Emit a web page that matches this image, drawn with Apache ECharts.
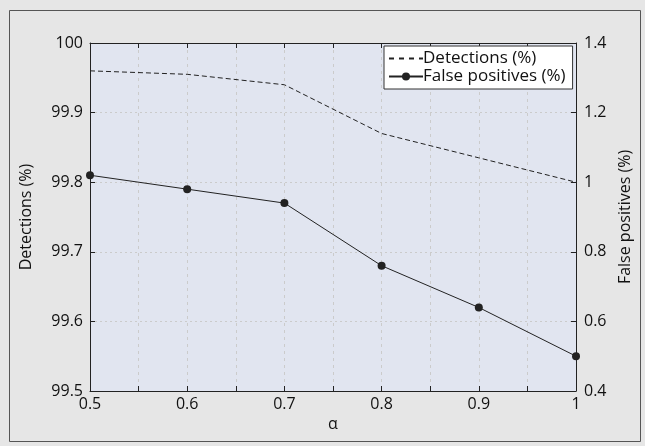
<!DOCTYPE html>
<html><head><meta charset="utf-8">
<script src="https://cdn.jsdelivr.net/npm/echarts@6/dist/echarts.min.js"></script>
<style>html,body{margin:0;padding:0;background:#e6e6e6}#c{width:645px;height:446px}</style>
</head><body><div id="c"></div>
<script>
const alphas = [0.5, 0.6, 0.7, 0.8, 0.9, 1.0];
const detections = [99.96, 99.955, 99.94, 99.87, 99.835, 99.80];
const falsePositives = [1.02, 0.98, 0.94, 0.76, 0.64, 0.50];
const leftTicks = [99.5, 99.6, 99.7, 99.8, 99.9, 100];
const rightTicks = [0.4, 0.6, 0.8, 1.0, 1.2, 1.4];

const FONT = 'Open Sans';
const FS = 16;
const chart = echarts.init(document.getElementById('c'));
const xFmt = v => {
  const t = v * 10;
  return Math.abs(t - Math.round(t)) < 1e-6 ? String(Math.round(t) / 10) : '';
};
chart.setOption({
  backgroundColor: '#e6e6e6',
  animation: false,
  textStyle: { fontFamily: FONT },
  graphic: [{
    type: 'rect', left: 7, top: 8, z: -1,
    shape: { width: 631, height: 431 },
    style: { fill: 'none', stroke: '#555', lineWidth: 1 }
  }],
  grid: { left: 90, top: 43, width: 486, height: 348, backgroundColor: '#e1e5f0', show: true, borderWidth: 0,
          containLabel: false, outerBoundsMode: 'none' },
  legend: {
    left: 384, top: 46, orient: 'vertical', itemGap: 1, itemWidth: 34, itemHeight: 10,
    backgroundColor: '#fff', borderColor: '#333', borderWidth: 1, borderRadius: 0,
    padding: [4, 7, 4, 4],
    textStyle: { fontFamily: FONT, fontSize: 17, color: '#111', padding: [0, 0, 0, -5] },
    data: [
      { name: 'Detections (%)', itemStyle: { opacity: 0 }, lineStyle: { type: [5, 5] } },
      { name: 'False positives (%)' }
    ]
  },
  xAxis: [{
    type: 'value', min: 0.5, max: 1, interval: 0.05, position: 'bottom',
    name: 'α', nameLocation: 'middle', nameGap: 24,
    nameTextStyle: { fontFamily: FONT, fontSize: FS, color: '#111' },
    axisLine: { lineStyle: { color: '#222', width: 1 } },
    axisTick: { inside: true, length: 5, lineStyle: { color: '#222' } },
    axisLabel: { formatter: xFmt, fontFamily: FONT, fontSize: FS, color: '#111', margin: 5 },
    splitLine: { show: true, lineStyle: { color: '#cbcbcb', type: [3, 4] } }
  }, {
    type: 'value', min: 0.5, max: 1, interval: 0.05, position: 'top',
    axisLine: { show: true, lineStyle: { color: '#222', width: 1 } },
    axisTick: { show: true, inside: true, length: 5, lineStyle: { color: '#222' } },
    axisLabel: { show: false }, splitLine: { show: false }
  }],
  yAxis: [{
    type: 'value', min: 99.5, max: 100, interval: 0.1, position: 'left',
    name: 'Detections (%)', nameLocation: 'middle', nameGap: 56,
    nameTextStyle: { fontFamily: FONT, fontSize: FS, color: '#111' },
    axisLine: { show: true, lineStyle: { color: '#222', width: 1 } },
    axisTick: { show: true, inside: true, length: 5, lineStyle: { color: '#222' } },
    axisLabel: { formatter: v => String(Math.round(v * 10) / 10), fontFamily: FONT, fontSize: FS, color: '#111', margin: 7 },
    splitLine: { show: true, lineStyle: { color: '#cbcbcb', type: [2, 3] } }
  }, {
    type: 'value', min: 0.4, max: 1.4, interval: 0.2, position: 'right',
    name: 'False positives (%)', nameLocation: 'middle', nameGap: 40, nameRotate: 90,
    nameTextStyle: { fontFamily: FONT, fontSize: FS, color: '#111' },
    axisLine: { show: true, lineStyle: { color: '#222', width: 1 } },
    axisTick: { show: true, inside: true, length: 5, lineStyle: { color: '#222' } },
    axisLabel: { formatter: v => String(Math.round(v * 10) / 10), fontFamily: FONT, fontSize: FS, color: '#111', margin: 8 },
    splitLine: { show: false }
  }],
  series: [{
    name: 'Detections (%)', type: 'line', xAxisIndex: 0, yAxisIndex: 0,
    data: alphas.map((a, i) => [a, detections[i]]),
    symbol: 'none', lineStyle: { color: '#222', width: 1, type: [5, 3] },
    itemStyle: { color: '#222' }
  }, {
    name: 'False positives (%)', type: 'line', xAxisIndex: 0, yAxisIndex: 1,
    data: alphas.map((a, i) => [a, falsePositives[i]]),
    symbol: 'circle', symbolSize: 8, lineStyle: { color: '#222', width: 1 },
    itemStyle: { color: '#222' }
  }]
});
</script></body></html>
